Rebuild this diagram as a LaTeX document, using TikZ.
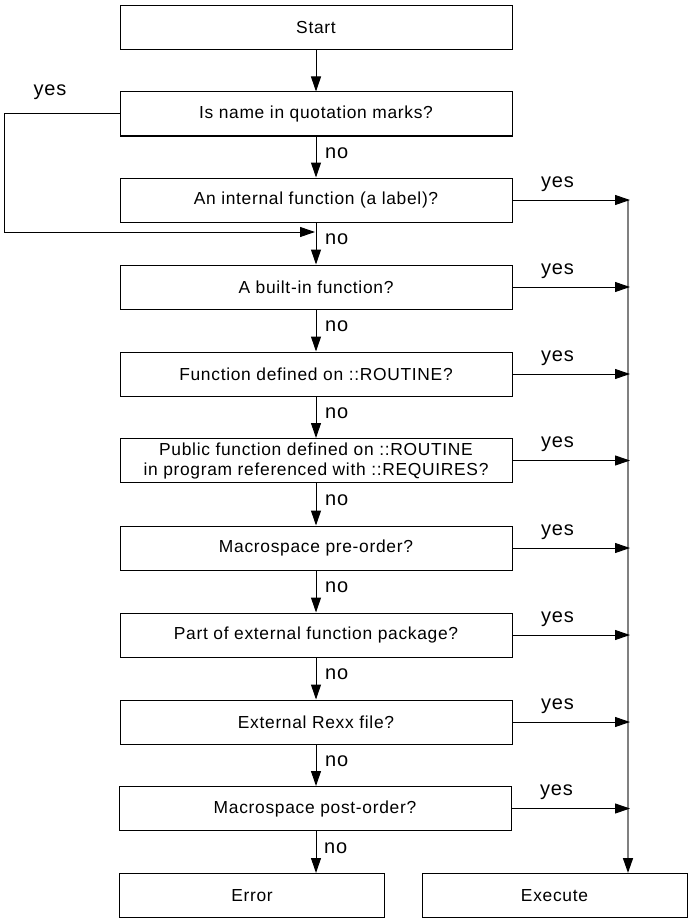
\documentclass[tikz,border=0pt]{standalone}
\usepackage{fontspec}
\setmainfont{Liberation Sans}[LetterSpace=4]
\usetikzlibrary{arrows.meta}
\begin{document}
\begin{tikzpicture}[x=1pt,y=-1pt,
  box/.style={draw,line width=1pt,minimum width=392pt,minimum height=44pt,inner sep=0pt,
    font=\fontsize{17.4}{20}\selectfont,align=center},
  smallbox/.style={box,minimum width=265pt},
  lbl/.style={font=\fontsize{20}{22}\selectfont,inner sep=0pt},
  arr/.style={line width=1pt,-{Triangle[length=15pt,width=10pt]}},
  rail/.style={gray,line width=1.6pt}
]
\useasboundingbox (0,0) rectangle (690,923);
\node[box] (s)  at (316,28)  {Start};
\node[box] (q1) at (316,114) {Is name in quotation marks?};
\node[box] (q2) at (316,200) {An internal function (a label)?};
\node[box] (q3) at (316,287) {A built-in function?};
\node[box] (q4) at (316,374) {Function defined on ::ROUTINE?};
\node[box] (q5) at (316,460.5) {Public function defined on ::ROUTINE\\in program referenced with ::REQUIRES?};
\node[box] (q6) at (316,548) {Macrospace pre-order?};
\node[box] (q7) at (316,635) {Part of external function package?};
\node[box] (q8) at (316,722) {External Rexx file?};
\node[box] (q9) at (315,808.5) {Macrospace post-order?};
\node[smallbox] (err) at (252,895.5) {Error};
\node[smallbox] (exe) at (554.5,895.5) {Execute};

\coordinate (railtop) at (628,200);
\coordinate (loopend) at (315,232);

% vertical flow
\draw[arr] (s) -- (q1);
\draw[arr] (q1) -- (q2);
\draw[arr] (q2) -- (q3);
\draw[arr] (q3) -- (q4);
\draw[arr] (q4) -- (q5);
\draw[arr] (q5) -- (q6);
\draw[arr] (q6) -- (q7);
\draw[arr] (q7) -- (q8);
\draw[arr] (q8.south) -- (q8.south |- q9.north);
\draw[arr] ([xshift=1pt]q9.south) -- ([xshift=1pt]q9.south |- err.north);

% left loop
\draw[arr] (q1.west) -- ++(-115,0) |- (loopend);
\node[lbl] (ly) at (50,92) {yes};

% rail
\draw[rail,-{Triangle[length=15pt,width=10pt,color=black,fill=black]}] (railtop) -- (railtop |- exe.north);

% yes arrows
\foreach \q in {q2,q3,q4,q5,q6,q7,q8,q9}{
  \draw[arr] (\q.east) -- ([xshift=2pt]\q.east -| railtop);
  \node[lbl] at ([xshift=45pt,yshift=16pt]\q.east) {yes};
}

% no labels
\foreach \a in {q1,q2,q3,q4,q5,q6,q7,q8,q9}{
  \node[lbl,anchor=west] at ([xshift=9pt,yshift=-17pt]\a.south) {no};
}
\end{tikzpicture}
\end{document}
